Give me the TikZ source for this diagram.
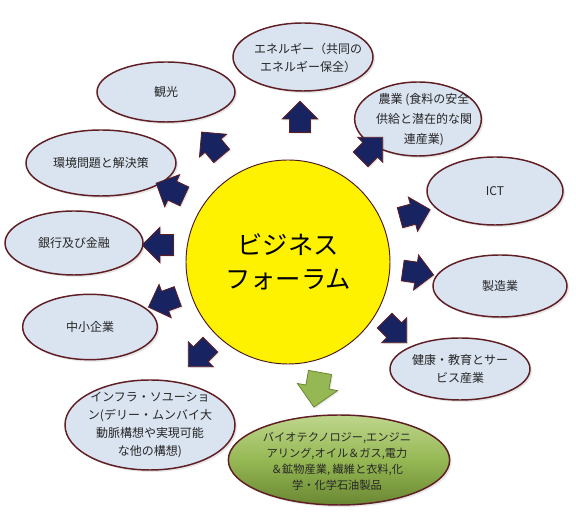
\documentclass[tikz,border=0pt]{standalone}
\usepackage{fontspec}
\setmainfont{Noto Sans CJK JP}
\usetikzlibrary{shapes.geometric, shapes.arrows, shadows}
\definecolor{topicfill}{RGB}{218,227,240}
\definecolor{topicline}{RGB}{95,30,35}
\definecolor{navyarrow}{RGB}{24,36,98}
\definecolor{olivelight}{RGB}{190,214,140}
\definecolor{olivemid}{RGB}{150,184,84}
\definecolor{olivedark}{RGB}{105,135,50}
\tikzset{
    topic/.style={ellipse, draw=topicline, line width=1.1pt, fill=topicfill, inner sep=0pt,
        drop shadow={opacity=0.2, shadow xshift=1.5pt, shadow yshift=-1.5pt}}, % the oval boxes
    topictext/.style={align=center, text=black!85, font=\fontsize{9}{13.5}\selectfont},
    push/.style={single arrow, draw=topicline, fill=navyarrow, line width=0.6pt, inner sep=7.5pt,
        minimum height=22pt, single arrow head extend=5.5pt,
        drop shadow={opacity=0.2, shadow xshift=1pt, shadow yshift=-1pt}}
}
\begin{document}
\begin{tikzpicture}[x=0.75pt, y=-0.75pt]
    \useasboundingbox (0,0) rectangle (576,523);

    % hub
    \node[circle, draw=topicline!80!black, line width=0.7pt, fill=yellow, minimum size=153pt,
        align=center, font=\fontsize{19}{26}\selectfont] (forum) at (288,262) {ビジネス\\フォーラム};

    % topics
    \node[topic, minimum width=105pt, minimum height=51pt] (energy) at (303,57) {};
    \node[topictext] (energy-t) at (308,58) {エネルギー（共同の\\エネルギー保全）};
    \node[topic, minimum width=95pt, minimum height=55.5pt] (agri) at (418,119) {};
    \node[topictext, font=\fontsize{9}{15}\selectfont] (agri-t) at (424,120) {農業 (食料の安全\\供給と潜在的な関\\連産業)};
    \node[topic, minimum width=102pt, minimum height=51pt] (ict) at (495,191) {};
    \node[topictext] (ict-t) at (ict) {ICT};
    \node[topic, minimum width=100.5pt, minimum height=46.5pt] (manuf) at (500,286) {};
    \node[topictext] (manuf-t) at (manuf) {製造業};
    \node[topic, minimum width=105pt, minimum height=46.5pt] (health) at (460,369) {};
    \node[topictext] (health-t) at (health) {健康・教育とサー\\ビス産業};
    \node[ellipse, draw=topicline, line width=1.1pt, top color=olivelight, bottom color=olivedark,
        middle color=olivemid, inner sep=0pt, minimum width=166pt, minimum height=67.5pt,
        drop shadow={opacity=0.2, shadow xshift=1.5pt, shadow yshift=-1.5pt}] (bio) at (339,460) {};
    \node[topictext, font=\fontsize{8.4}{12}\selectfont] (bio-t) at (337,461) {バイオテクノロジー,エンジニ\\アリング,オイル＆ガス,電力\\＆鉱物産業, 繊維と衣料,化\\学・化学石油製品};
    \node[topic, minimum width=127.5pt, minimum height=67.5pt] (infra) at (150,425) {};
    \node[topictext] (infra-t) at (infra) {インフラ・ソユーショ\\ン(デリー・ムンバイ大\\動脈構想や実現可能\\な他の構想)};
    \node[topic, minimum width=101pt, minimum height=49pt] (sme) at (90,327) {};
    \node[topictext] (sme-t) at (sme) {中小企業};
    \node[topic, minimum width=103.5pt, minimum height=48pt] (bank) at (74,243) {};
    \node[topictext] (bank-t) at (bank) {銀行及び金融};
    \node[topic, minimum width=112.5pt, minimum height=49.5pt] (env) at (101,163) {};
    \node[topictext] (env-t) at (env) {環境問題と解決策};
    \node[topic, minimum width=103.5pt, minimum height=45pt] (tour) at (166,92) {};
    \node[topictext] (tour-t) at (tour) {観光};

    % arrows round the hub
    \node[push, rotate=90] (to-energy) at (300,122) {};
    \node[push, rotate=45] (to-agri) at (368,152) {};
    \node[push, rotate=15] (to-ict) at (410,215) {};
    \node[push, rotate=-8] (to-manuf) at (413,272) {};
    \node[push, rotate=-45] (to-health) at (392,328) {};
    \node[push, rotate=-100, fill=olivemid, draw=olivedark, inner sep=8.5pt,
        single arrow head extend=6.5pt, minimum height=24pt] (to-bio) at (318,384) {};
    \node[push, rotate=-135] (to-infra) at (203,352) {};
    \node[push, rotate=-160] (to-sme) at (168,300) {};
    \node[push, rotate=180] (to-bank) at (163,245) {};
    \node[push, rotate=155] (to-env) at (175,192) {};
    \node[push, rotate=130] (to-tour) at (215,148) {};
\end{tikzpicture}
\end{document}
